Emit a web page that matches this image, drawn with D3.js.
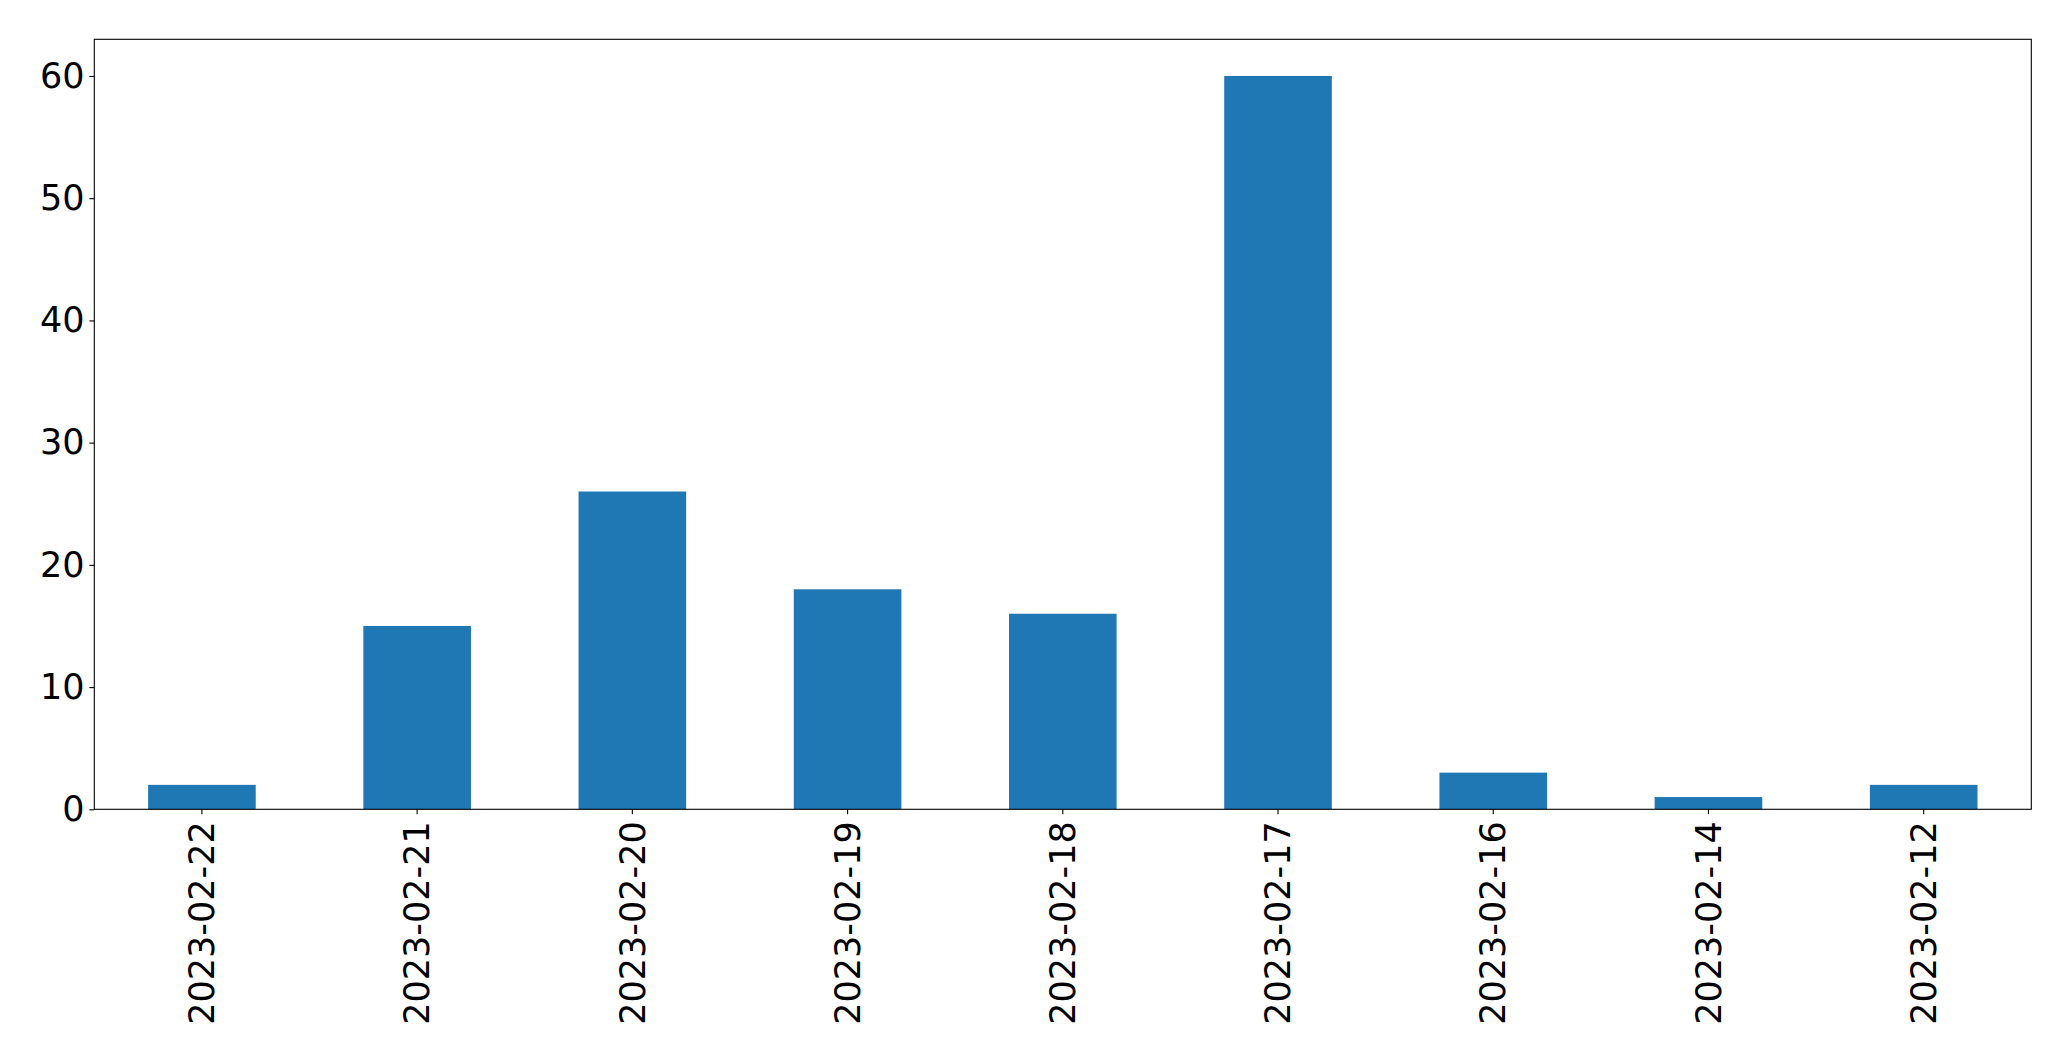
<!DOCTYPE html>
<html><head><meta charset="utf-8">
<script src="https://cdn.jsdelivr.net/npm/d3@7"></script>
<style>html,body{margin:0;padding:0;background:#fff;}svg{display:block;}</style>
</head><body>
<svg id="chart" width="2071" height="1061"></svg>
<script>
const categories = ["2023-02-22","2023-02-21","2023-02-20","2023-02-19","2023-02-18","2023-02-17","2023-02-16","2023-02-14","2023-02-12"];
const values = [2, 15, 26, 18, 16, 60, 3, 1, 2];
const yTicks = [0, 10, 20, 30, 40, 50, 60];

const W = 2071, H = 1061;
const m = {left: 94.3, top: 39.3, right: W - 2031.3, bottom: H - 809.3};
const svg = d3.select("#chart");
const iw = W - m.left - m.right, ih = H - m.top - m.bottom;
const g = svg.append("g").attr("transform", `translate(${m.left},${m.top})`);

const x = d3.scaleBand().domain(categories).range([0, iw]).paddingInner(0.5).paddingOuter(0.25);
const y = d3.scaleLinear().domain([0, 63]).range([ih, 0]);

g.selectAll("rect.bar").data(values).join("rect")
  .attr("class","bar")
  .attr("x", (d,i) => x(categories[i]))
  .attr("width", x.bandwidth())
  .attr("y", d => y(d))
  .attr("height", d => ih - y(d))
  .attr("fill", "#1f77b4");

const font = "DejaVu Sans, sans-serif";
const fs = "35px";
const yAxis = g.append("g").call(d3.axisLeft(y).tickValues(yTicks).tickSize(4.9).tickPadding(4.9).tickFormat(d3.format("d")));
yAxis.select(".domain").remove();
yAxis.selectAll("line").attr("stroke","#000").attr("stroke-width",1.1);
yAxis.selectAll("text").attr("font-family",font).attr("font-size",fs).attr("fill","#000");

const xAxis = g.append("g").attr("transform",`translate(0,${ih})`).call(d3.axisBottom(x).tickSize(4.9).tickPadding(0));
xAxis.select(".domain").remove();
xAxis.selectAll("line").attr("stroke","#000").attr("stroke-width",1.1);
xAxis.selectAll("text")
  .attr("font-family",font).attr("font-size",fs).attr("fill","#000")
  .attr("text-anchor","end")
  .attr("dy","0.35em")
  .attr("transform","translate(0,12) rotate(-90)")
  .attr("x",0).attr("y",0);

g.append("rect").attr("x",0).attr("y",0).attr("width",iw).attr("height",ih)
  .attr("fill","none").attr("stroke","#000").attr("stroke-width",1.1);
</script>
</body></html>
